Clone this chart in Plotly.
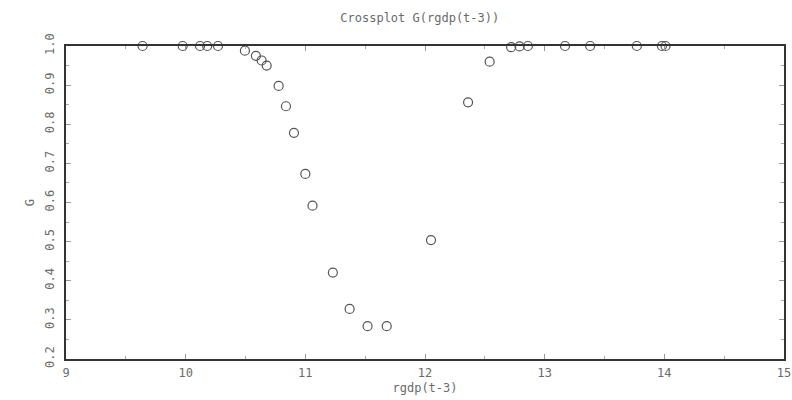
import plotly.graph_objects as go

rgdp_t3 = [9.64, 9.975, 10.12, 10.18, 10.27, 10.495, 10.587, 10.635, 10.677, 10.777,
           10.838, 10.905, 11.0, 11.06, 11.23, 11.37, 11.52, 11.68, 12.05, 12.36,
           12.54, 12.72, 12.79, 12.86, 13.17, 13.38, 13.77, 13.98, 14.01]
g_values = [1.0, 1.0, 1.0, 1.0, 1.0, 0.988, 0.975, 0.963, 0.95, 0.898,
            0.846, 0.778, 0.673, 0.592, 0.421, 0.328, 0.284, 0.284, 0.504, 0.856,
            0.96, 0.997, 0.999, 1.0, 1.0, 1.0, 1.0, 1.0, 1.0]

x_ticks = [9, 10, 11, 12, 13, 14, 15]
y_ticks = [0.2, 0.3, 0.4, 0.5, 0.6, 0.7, 0.8, 0.9, 1.0]
y_labels = ["0.2", "0.3", "0.4", "0.5", "0.6", "0.7", "0.8", "0.9", "1.0"]

FONT = "DejaVu Sans Mono"
TXT = "#6a6a6a"

fig = go.Figure(go.Scatter(
    x=rgdp_t3, y=g_values, mode="markers",
    marker=dict(symbol="circle-open", size=9, color="#555555", line=dict(width=1.2)),
    cliponaxis=False,
))

axis_common = dict(
    showgrid=False, zeroline=False, showline=True, linecolor="#333333", linewidth=2,
    mirror="allticks", ticks="inside", ticklen=5, tickcolor="#999999", tickwidth=1,
    tickfont=dict(family=FONT, size=12, color=TXT), automargin=False,
)

fig.update_layout(
    width=792, height=400,
    margin=dict(l=66, r=8, t=46, b=41),
    paper_bgcolor="white", plot_bgcolor="white",
    showlegend=False,
    title=dict(text="Crossplot G(rgdp(t-3))", x=0.53, xanchor="center", y=0.955, yanchor="middle",
               font=dict(family=FONT, size=12, color=TXT), automargin=False),
    xaxis=dict(range=[9, 15], tickvals=x_ticks, ticktext=[str(v) for v in x_ticks],
               ticklabelstandoff=2,
               minor=dict(dtick=0.5, tick0=9, ticks="inside", ticklen=3, tickcolor="#aaaaaa"),
               title=dict(text="rgdp(t-3)", font=dict(family=FONT, size=12, color=TXT), standoff=4),
               **axis_common),
    yaxis=dict(range=[0.2, 1.0], tickvals=y_ticks, ticktext=y_labels, tickangle=-90,
               ticklabelstandoff=5,
               minor=dict(dtick=0.05, tick0=0.2, ticks="inside", ticklen=3, tickcolor="#aaaaaa"),
               title=dict(text="G", font=dict(family=FONT, size=12, color=TXT), standoff=6),
               **axis_common),
)

fig.write_html(
    "out.html",
    config={"displayModeBar": False},
    post_script="document.body.style.margin='0';document.body.style.overflow='hidden';",
)
